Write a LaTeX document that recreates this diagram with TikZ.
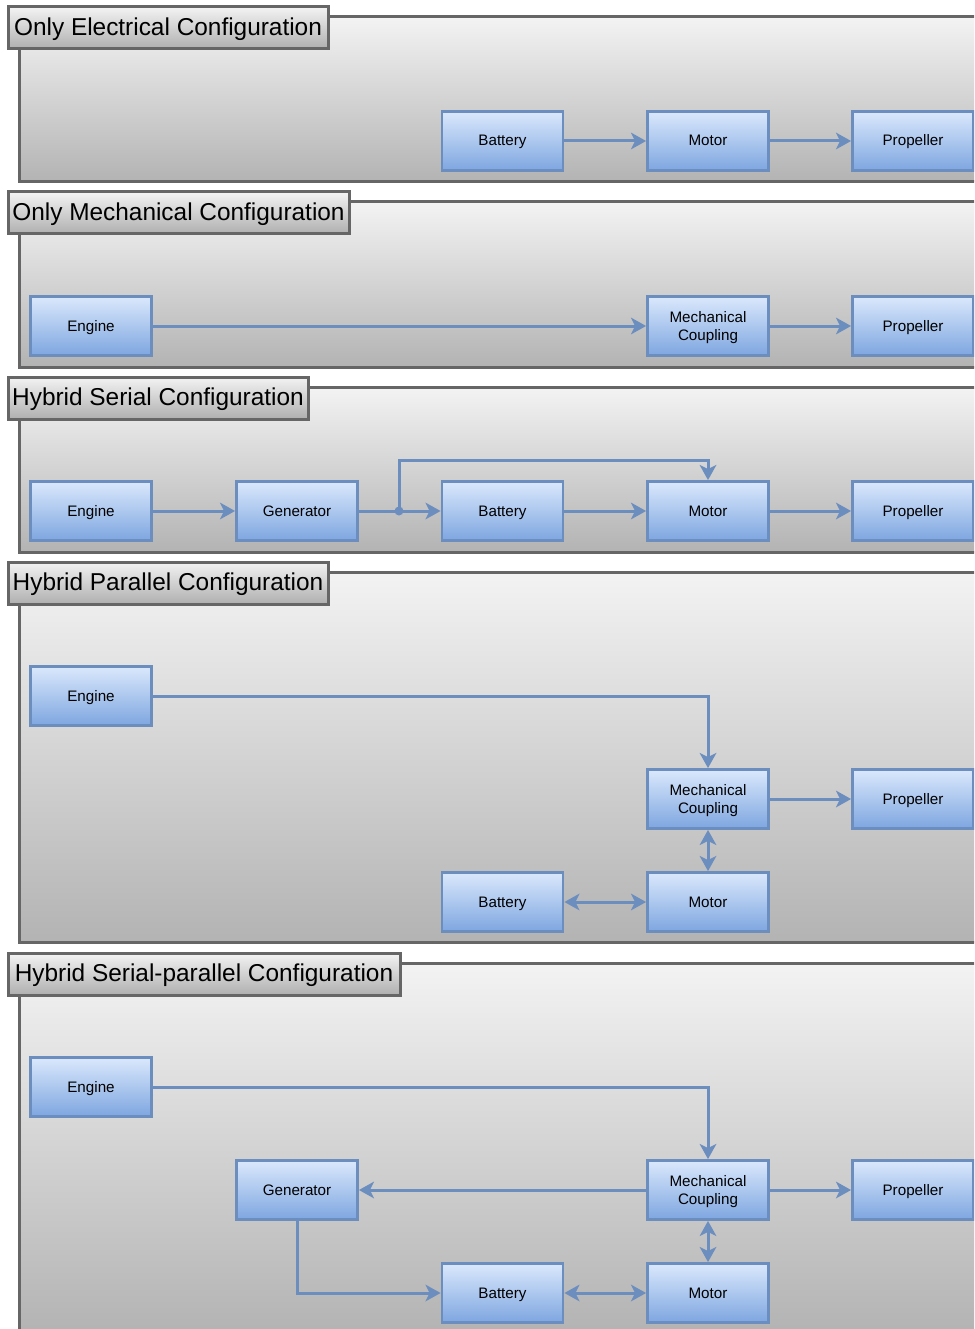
\documentclass[tikz,border=0pt]{standalone}
\usepackage{fontspec}
\setmainfont{Liberation Sans}
\usetikzlibrary{arrows.meta,calc}

\definecolor{edgecol}{HTML}{6C8EBF}
\definecolor{blktop}{HTML}{DAE8FC}
\definecolor{blkbot}{HTML}{7EA6E0}
\definecolor{panelline}{HTML}{666666}
\definecolor{paneltop}{HTML}{F3F3F3}
\definecolor{panelbot}{HTML}{B3B3B3}

\tikzset{
  panel/.style={draw=panelline, line width=3pt, top color=paneltop, bottom color=panelbot},
  titlebox/.style={draw=panelline, line width=3pt, top color=paneltop, bottom color=panelbot!105},
  titletext/.style={font=\fontsize{24.4}{28}\selectfont, text=black, inner sep=0pt},
  blk/.style={draw=edgecol, line width=2.8pt, top color=blktop, bottom color=blkbot,
    minimum width=121pt, minimum height=59pt, inner sep=2pt, align=center,
    font=\fontsize{15.2}{18.5}\selectfont, text=black},
  blk1/.style={blk, text height=12pt, text depth=2pt},
  blk2/.style={blk, text depth=0pt},
  arr/.style={draw=edgecol, line width=3pt, -{Stealth[length=15pt,width=16.5pt,inset=4pt]}},
  arrboth/.style={draw=edgecol, line width=3pt,
    {Stealth[length=15pt,width=16.5pt,inset=4pt]}-{Stealth[length=15pt,width=16.5pt,inset=4pt]}},
}

\newcommand{\configpanel}[5]{%
  % #1 top, #2 bottom, #3 title box right edge, #4 title text, #5 name
  \path[panel] (19,#1) rectangle (1000,#2);
  \path[titlebox] (8,#1-10) rectangle (#3,#1+32);
  \node[titletext] (#5) at ({(8+#3)/2},#1+12.5) {#4};
}

\begin{document}
\begin{tikzpicture}[x=1pt,y=-1pt]
\useasboundingbox (0,0) rectangle (974,1329);
\clip (0,0) rectangle (974,1329);

% ---- panels ----
\configpanel{17}{182}{328}{Only Electrical Configuration}{t1}
\configpanel{202}{367}{349}{Only Mechanical Configuration}{t2}
\configpanel{387}{552}{308}{Hybrid Serial Configuration}{t3}
\configpanel{572}{942}{328}{Hybrid Parallel Configuration}{t4}
\configpanel{963}{1333}{400}{Hybrid Serial-parallel Configuration}{t5}

% ---- only electrical ----
\node[blk1] (b1) at (502.5,141) {Battery};
\node[blk1] (m1) at (708,141) {Motor};
\node[blk1] (p1) at (913,141) {Propeller};
\draw[arr] (b1) -- (m1);
\draw[arr] (m1) -- (p1);

% ---- only mechanical ----
\node[blk1] (e2) at (91,326) {Engine};
\node[blk2] (c2) at (708,326) {Mechanical\\Coupling};
\node[blk1] (p2) at (913,326) {Propeller};
\draw[arr] (e2) -- (c2);
\draw[arr] (c2) -- (p2);

% ---- hybrid serial ----
\node[blk1] (e3) at (91,511) {Engine};
\node[blk1] (g3) at (297,511) {Generator};
\node[blk1] (b3) at (502.5,511) {Battery};
\node[blk1] (m3) at (708,511) {Motor};
\node[blk1] (p3) at (913,511) {Propeller};
\coordinate (j3) at (399,511);
\coordinate (k3) at (399,460);
\draw[arr] (e3) -- (g3);
\draw[arr] (g3) -- (b3);
\fill[edgecol] (j3) circle (4.5pt);
\draw[arr] (j3) -- (k3) -| (m3.north);
\draw[arr] (b3) -- (m3);
\draw[arr] (m3) -- (p3);

% ---- hybrid parallel ----
\node[blk1] (e4) at (91,696) {Engine};
\node[blk2] (c4) at (708,799) {Mechanical\\Coupling};
\node[blk1] (p4) at (913,799) {Propeller};
\node[blk1] (b4) at (502.5,902) {Battery};
\node[blk1] (m4) at (708,902) {Motor};
\draw[arr] (e4.east) -| (c4.north);
\draw[arr] (c4) -- (p4);
\draw[arrboth] (c4) -- (m4);
\draw[arrboth] (b4) -- (m4);

% ---- hybrid serial-parallel ----
\node[blk1] (e5) at (91,1087) {Engine};
\node[blk1] (g5) at (297,1190) {Generator};
\node[blk2] (c5) at (708,1190) {Mechanical\\Coupling};
\node[blk1] (p5) at (913,1190) {Propeller};
\node[blk1] (b5) at (502.5,1293) {Battery};
\node[blk1] (m5) at (708,1293) {Motor};
\draw[arr] (e5.east) -| (c5.north);
\draw[arr] (c5) -- (g5);
\draw[arr] (g5.south) |- (b5.west);
\draw[arr] (c5) -- (p5);
\draw[arrboth] (c5) -- (m5);
\draw[arrboth] (b5) -- (m5);
\end{tikzpicture}
\end{document}
